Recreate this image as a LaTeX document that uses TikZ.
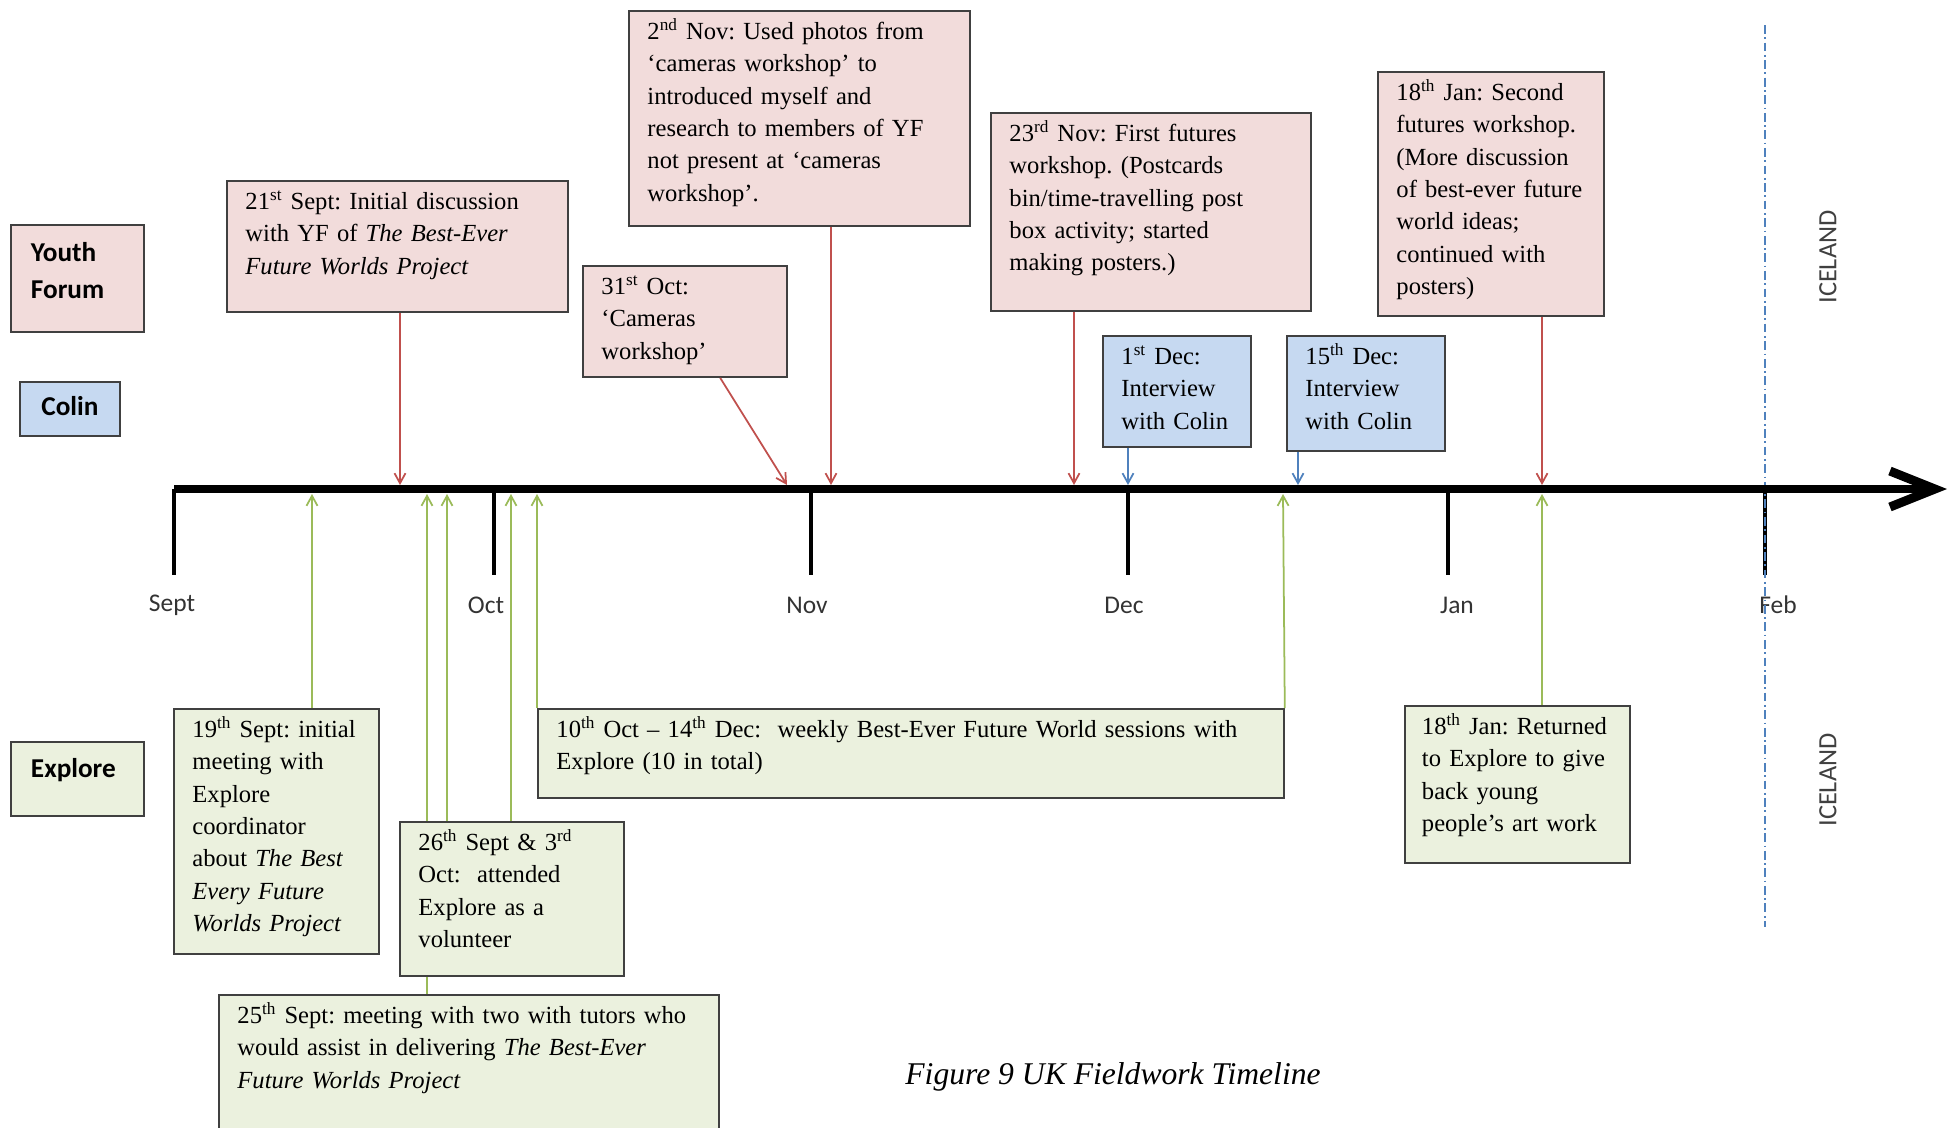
\documentclass[tikz,border=0pt]{standalone}
\usepackage{fontspec}
\setmainfont{Liberation Serif}
\newfontfamily\calibri{Carlito}
\usepackage{tikz}
\usetikzlibrary{arrows.meta}
\definecolor{forum}{HTML}{F2DCDB}
\definecolor{colin}{HTML}{C6D9F1}
\definecolor{explore}{HTML}{EBF1DE}
\definecolor{forumline}{HTML}{C0504D}
\definecolor{colinline}{HTML}{4F81BD}
\definecolor{exploreline}{HTML}{9BBB59}
\tikzset{
  every event/.style={draw=black!75, line width=1.1pt, anchor=north west, align=left,
    inner xsep=0.37cm, inner ysep=0.15cm, text height=0.42cm,
    font=\fontsize{14}{18.4}\selectfont\frenchspacing},
  forum event/.style={every event, fill=forum},
  colin event/.style={every event, fill=colin},
  explore event/.style={every event, fill=explore},
  group/.style={draw=black!75, line width=1.1pt, anchor=north west, align=left,
    inner xsep=0.4cm, inner ysep=0pt, font=\calibri\bfseries\fontsize{15.5}{21}\selectfont},
  forum arrow/.style={draw=forumline, line width=1pt, -{Straight Barb[length=0.2cm,width=0.22cm]}},
  colin arrow/.style={forum arrow, draw=colinline},
  explore arrow/.style={forum arrow, draw=exploreline},
  timeline/.style={line width=5.1pt, -{Straight Barb[length=0.9cm,width=0.72cm]}},
  month tick/.style={line width=2.3pt},
  month label/.style={font=\calibri\fontsize{14.5}{17}\selectfont, text=black!80},
  iceland line/.style={draw=colinline, line width=1.1pt, dash pattern=on 5pt off 2pt on 1pt off 2pt},
  iceland/.style={rotate=90, font=\calibri\fontsize{15}{17}\selectfont, text=black!75},
}

\begin{document}
\begin{tikzpicture}[x=0.02cm,y=-0.02cm]
\useasboundingbox (0,0) rectangle (1950,1127);

\foreach \x/\lx/\m in {174/172/Sept, 494/486/Oct, 811/807/Nov, 1128/1124/Dec, 1448/1457/Jan, 1765/1778/Feb}
{
  \draw[month tick] (\x,489) -- (\x,575);
  \node[month label] (m-\m) at (\lx,605) {\m};
}
\draw[iceland line] (1765,25) -- (1765,927);
\coordinate (tl-start) at (174,489);
\coordinate (tl-end) at (1947,489);
\draw[timeline] (tl-start) -- (tl-end);

\node[iceland] (ice-top) at (1828,257) {ICELAND};
\node[iceland] (ice-bot) at (1828,780) {ICELAND};

\node[group, fill=forum, text width=1.86cm, text height=0.73cm, text depth=1.41cm] (youth) at (10,224) {Youth\\Forum};
\node[group, fill=colin, align=center, minimum width=2cm, text height=0.67cm, text depth=0.41cm] (colin) at (19,381) {Colin};
\node[group, fill=explore, text width=1.86cm, text height=0.71cm, text depth=0.77cm] (explore) at (10,741) {Explore};

\node[forum event, text width=6.08cm, text depth=1.90cm] (sep21) at (226,180)
  {21\textsuperscript{st} Sept: Initial discussion\\with YF of \textit{The Best-Ever}\\\textit{Future Worlds Project}};
\node[forum event, text width=6.08cm, text depth=3.58cm] (nov2) at (628,10)
  {2\textsuperscript{nd} Nov: Used photos from\\‘cameras workshop’ to\\introduced myself and\\research to members of YF\\not present at ‘cameras\\workshop’.};
\node[forum event, text width=3.34cm, text depth=1.50cm] (oct31) at (582,265)
  {31\textsuperscript{st} Oct:\\‘Cameras\\workshop’};
\node[forum event, text width=5.66cm, text depth=3.24cm] (nov23) at (990,112)
  {23\textsuperscript{rd} Nov: First futures\\workshop. (Postcards\\bin/time-travelling post\\box activity; started\\making posters.)};
\node[forum event, text width=3.78cm, text depth=4.16cm] (jan18t) at (1377,71)
  {18\textsuperscript{th} Jan: Second\\futures workshop.\\(More discussion\\of best-ever future\\world ideas;\\continued with\\posters)};
\node[colin event, text width=2.22cm, text depth=1.50cm] (dec1) at (1102,335)
  {1\textsuperscript{st} Dec:\\Interview\\with Colin};
\node[colin event, text width=2.42cm, text depth=1.58cm] (dec15) at (1286,335)
  {15\textsuperscript{th} Dec:\\Interview\\with Colin};

\node[explore event, text width=3.36cm, text depth=4.18cm] (sep19) at (173,708)
  {19\textsuperscript{th} Sept: initial\\meeting with\\Explore\\coordinator\\about \textit{The Best}\\\textit{Every Future}\\\textit{Worlds Project}};
\node[explore event, text width=9.26cm, text depth=2.20cm] (sep25) at (218,994)
  {25\textsuperscript{th} Sept: meeting with two with tutors who\\would assist in delivering \textit{The Best-Ever}\\\textit{Future Worlds Project}};
\coordinate (s25) at (427,494);
\draw[explore arrow] (sep25.north -| s25) -- (s25);
\node[explore event, text width=3.74cm, text depth=2.36cm] (sep26) at (399,821)
  {26\textsuperscript{th} Sept \& 3\textsuperscript{rd}\\Oct:~ attended\\Explore as a\\volunteer};
\node[explore event, text width=14.18cm, text depth=1.06cm] (oct10) at (537,708)
  {10\textsuperscript{th} Oct -- 14\textsuperscript{th} Dec:~ weekly Best-Ever Future World sessions with\\Explore (10 in total)};
\node[explore event, inner xsep=0.34cm, text width=3.82cm, text depth=2.42cm] (jan18b) at (1404,705)
  {18\textsuperscript{th} Jan: Returned\\to Explore to give\\back young\\people’s art work};

\foreach \name/\x in {s21/400, n2/831, o31/787, n23/1074, j18t/1542, d1/1128, d15/1298}
  \coordinate (\name) at (\x,485);
\foreach \name/\x in {s19/312, s26/447, o3/511, o10/537, d14/1283, j18b/1542}
  \coordinate (\name) at (\x,494);

\foreach \ev/\pt in {sep21/s21, nov2/n2, nov23/n23, jan18t/j18t}
  \draw[forum arrow] (\ev.south -| \pt) -- (\pt);
\draw[forum arrow] (oct31.-58) -- (o31);
\foreach \ev/\pt in {dec1/d1, dec15/d15}
  \draw[colin arrow] (\ev.south -| \pt) -- (\pt);
\foreach \ev/\pt in {sep19/s19, sep26/s26, sep26/o3, jan18b/j18b}
  \draw[explore arrow] (\ev.north -| \pt) -- (\pt);
\draw[explore arrow] (oct10.north west) -- (o10);
\draw[explore arrow] (oct10.north east) -- (d14);

\node[font=\itshape\fontsize{18}{22}\selectfont] (caption) at (1113,1077) {Figure 9 UK Fieldwork Timeline};
\end{tikzpicture}
\end{document}
